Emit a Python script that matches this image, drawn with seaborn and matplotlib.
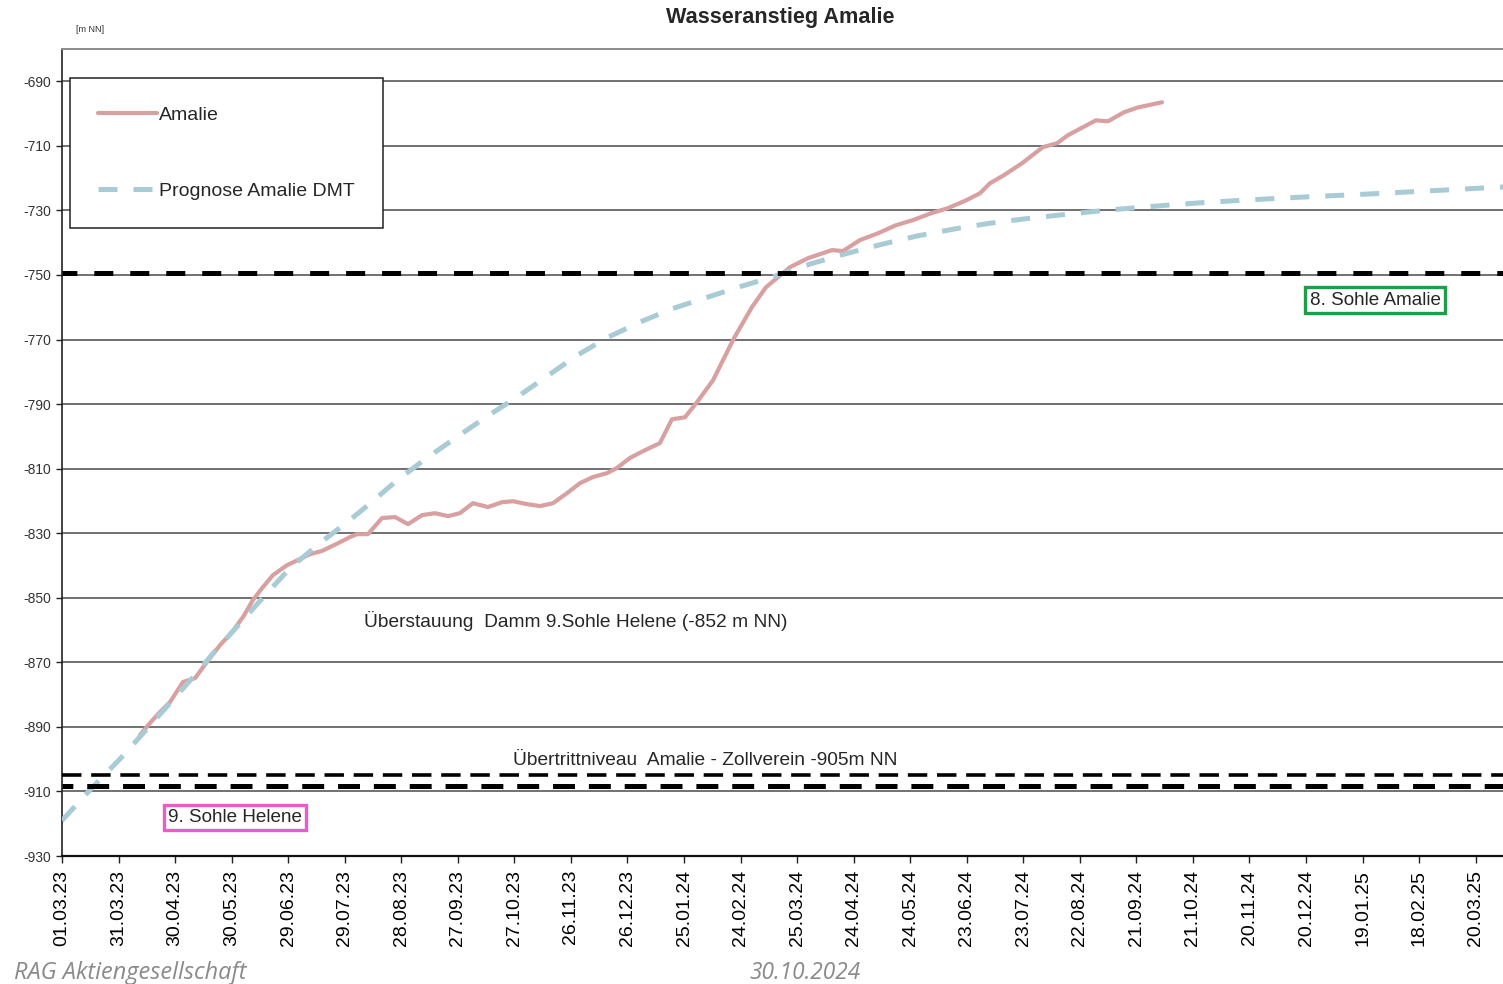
import numpy as np
import pandas as pd
import matplotlib
matplotlib.use("Agg")
import matplotlib.pyplot as plt
import matplotlib.dates as mdates
import seaborn as sns

# ---------------- data ----------------
title = "Wasseranstieg Amalie"
unit_label = "[m NN]"
start_date = "01.03.23"
tick_labels = ["01.03.23", "31.03.23", "30.04.23", "30.05.23", "29.06.23", "29.07.23",
               "28.08.23", "27.09.23", "27.10.23", "26.11.23", "26.12.23", "25.01.24",
               "24.02.24", "25.03.24", "24.04.24", "24.05.24", "23.06.24", "23.07.24",
               "22.08.24", "21.09.24", "21.10.24", "20.11.24", "20.12.24", "19.01.25",
               "18.02.25", "20.03.25"]
y_ticks = [-690, -710, -730, -750, -770, -790, -810, -830, -850, -870, -890, -910, -930]

# days since 01.03.23
amalie_days = [41.4, 46.7, 52.0, 57.3, 64.2, 70.6, 76.9, 83.8, 90.2, 96.0, 101.3, 106.6,
               111.9, 119.4, 125.2, 131.6, 137.9, 145.4, 152.8, 156.5, 162.3, 169.8, 176.7,
               183.6, 191.0, 197.9, 204.8, 211.1, 218.0, 226.0, 233.4, 239.3, 246.7, 253.6,
               260.5, 267.9, 274.8, 281.7, 289.1, 294.4, 301.3, 308.2, 317.2, 323.6, 330.5,
               336.9, 345.4, 351.2, 356.5, 366.0, 373.5, 386.2, 395.8, 408.5, 414.3, 423.3,
               432.9, 442.4, 451.5, 461.0, 470.0, 479.6, 487.0, 492.3, 499.7, 509.3, 520.4,
               527.9, 533.7, 548.5, 554.9, 563.4, 570.8, 583.6]
amalie_level = [-892.5, -888.8, -885.4, -882.3, -876.1, -874.9, -869.9, -864.7, -860.6, -856.0,
                -850.7, -846.7, -843.0, -839.9, -838.3, -836.5, -835.5, -833.4, -831.2, -830.3,
                -830.3, -825.3, -825.0, -827.2, -824.4, -823.8, -824.7, -823.8, -820.7, -821.9,
                -820.4, -820.1, -821.0, -821.6, -820.7, -817.6, -814.5, -812.6, -811.4, -809.8,
                -806.7, -804.6, -802.1, -794.7, -794.1, -789.4, -782.6, -775.8, -769.6, -760.0,
                -753.8, -747.6, -744.8, -742.3, -742.6, -739.2, -737.1, -734.6, -733.0, -730.9,
                -729.3, -726.9, -724.7, -721.6, -719.1, -715.4, -710.4, -709.2, -706.7, -702.1,
                -702.4, -699.6, -698.1, -696.5]

prognose_days = [0, 16, 31, 43, 54, 70, 80, 91, 105, 121, 137, 153, 163, 178, 194, 210, 225,
                 241, 257, 273, 289, 307, 324, 344, 361, 376, 397, 416, 435, 453, 474, 492,
                 511, 530, 548, 567, 586, 605, 625, 644, 664, 683, 701, 720, 740, 759, 770]
prognose_level = [-919.0, -908.8, -899.8, -892.0, -884.8, -874.3, -867.3, -860.2, -851.0,
                  -840.8, -833.0, -825.8, -821.0, -813.5, -806.5, -800.0, -794.0, -788.0,
                  -781.5, -775.0, -769.5, -764.5, -760.4, -756.6, -753.4, -750.8, -746.6,
                  -743.4, -740.5, -738.0, -735.7, -734.0, -732.6, -731.4, -730.3, -729.3,
                  -728.4, -727.6, -726.9, -726.3, -725.7, -725.2, -724.7, -724.1, -723.5,
                  -722.9, -722.6]

level_8_sohle = -749.3
level_uebertritt = -905.0
level_9_sohle = -908.4

series_names = ["Amalie", "Prognose Amalie DMT"]
label_ueberstauung = "Überstauung  Damm 9.Sohle Helene (-852 m NN)"
label_uebertritt = "Übertrittniveau  Amalie - Zollverein -905m NN"
label_9_sohle = "9. Sohle Helene"
label_8_sohle = "8. Sohle Amalie"
footer_left = "RAG Aktiengesellschaft"
footer_right = "30.10.2024"

# ---------------- styling ----------------
sns.set_style("white")
plt.rcParams["font.family"] = ["Liberation Sans", "DejaVu Sans"]
plt.rcParams["lines.scale_dashes"] = False

base = pd.to_datetime(start_date, format="%d.%m.%y")
amalie_dates = base + pd.to_timedelta(amalie_days, unit="D")
prognose_dates = base + pd.to_timedelta(prognose_days, unit="D")
tick_dates = pd.to_datetime(tick_labels, format="%d.%m.%y")


def day(d):
    return mdates.date2num(base + pd.Timedelta(days=d))


fig = plt.figure(figsize=(15.03, 9.84), dpi=100)
ax = fig.add_axes([62 / 1503, 1 - 856 / 984, 1 - 62 / 1503, (856 - 49) / 984])

ax.set_ylim(-930, -680)
ax.set_xlim(day(0), day(764.5))
ax.set_yticks(y_ticks)
ax.set_yticklabels([str(v) for v in y_ticks])
ax.set_xticks(mdates.date2num(tick_dates))
ax.set_xticklabels(tick_labels, rotation=90)

for v in y_ticks:
    ax.axhline(v, color="#4a4a4a", lw=1.1, zorder=1)

red = "#d8a0a0"
blue = "#a9cbd6"

sns.lineplot(x=mdates.date2num(amalie_dates), y=amalie_level, ax=ax, color=red, lw=3.0,
             label=series_names[0], zorder=3)
sns.lineplot(x=mdates.date2num(prognose_dates), y=prognose_level, ax=ax, color=blue, lw=3.6,
             linestyle=(0, (13.7, 11.5)), label=series_names[1], zorder=3.5)

ax.axhline(level_8_sohle, color="black", lw=3.6, linestyle=(3, (13.7, 12.2)), zorder=4)
ax.axhline(level_uebertritt, color="black", lw=2.6, linestyle=(0, (14.0, 7.0)), zorder=4)
ax.axhline(level_9_sohle, color="black", lw=3.6, linestyle=(8, (15.8, 10.0)), zorder=4)

# spines / ticks
ax.spines["right"].set_visible(False)
ax.spines["top"].set_color("#8c8c8c")
ax.spines["top"].set_linewidth(1.4)
ax.spines["left"].set_color("#222222")
ax.spines["left"].set_linewidth(1.2)
ax.spines["bottom"].set_color("#111111")
ax.spines["bottom"].set_linewidth(1.6)
ax.tick_params(axis="y", direction="out", length=4, width=1, pad=4, labelsize=10,
               labelcolor="#333333", left=True, color="#222222")
ax.tick_params(axis="x", direction="out", length=5, width=1, pad=5, labelsize=14,
               labelcolor="black", bottom=True, color="#222222")
ax.set_xlabel("")
ax.set_ylabel("")

# legend
handles = ax.get_lines()
leg_handles = [l for l in handles if l.get_label() in series_names]
leg = ax.legend(handles=leg_handles, labels=series_names, loc="upper left",
                bbox_to_anchor=(70 / 1503, 1 - 78 / 984), bbox_transform=fig.transFigure,
                borderaxespad=0, fontsize=14, handlelength=3.0, handletextpad=0.15,
                labelspacing=3.0, borderpad=1.45, frameon=True, fancybox=False,
                framealpha=1, edgecolor="#222222")
leg.get_frame().set_linewidth(1.1)

# annotations
ax.text(day(160.2), -857.2, label_ueberstauung, fontsize=13.8, ha="left", va="center")
ax.text(day(239.3), -900.3, label_uebertritt, fontsize=13.8, ha="left", va="center")
ax.text(day(91.8), -918.0, label_9_sohle, fontsize=13.6, ha="center", va="center",
        bbox=dict(boxstyle="square,pad=0.22", fc="white", ec="#ea5cc8", lw=2.4), zorder=6)
ax.text(day(696.6), -757.8, label_8_sohle, fontsize=13.6, ha="center", va="center",
        bbox=dict(boxstyle="square,pad=0.22", fc="white", ec="#1e9e4a", lw=2.4), zorder=6)

fig.text(780 / 1503, 1 - 17 / 984, title, fontsize=15.6, fontweight="bold",
         ha="center", va="center")
fig.text(90 / 1503, 1 - 30 / 984, unit_label, fontsize=6.5, ha="center", va="center",
         color="#333333")
fig.text(14 / 1503, 1 - 973 / 984, footer_left, fontsize=16.9, style="italic",
         family=["Open Sans", "DejaVu Sans"], color="#8a8a8a", ha="left", va="center")
fig.text(749 / 1503, 1 - 973 / 984, footer_right, fontsize=16.3, style="italic",
         family=["Open Sans", "DejaVu Sans"], color="#8a8a8a", ha="left", va="center")

fig.savefig("out.png", dpi=100)
